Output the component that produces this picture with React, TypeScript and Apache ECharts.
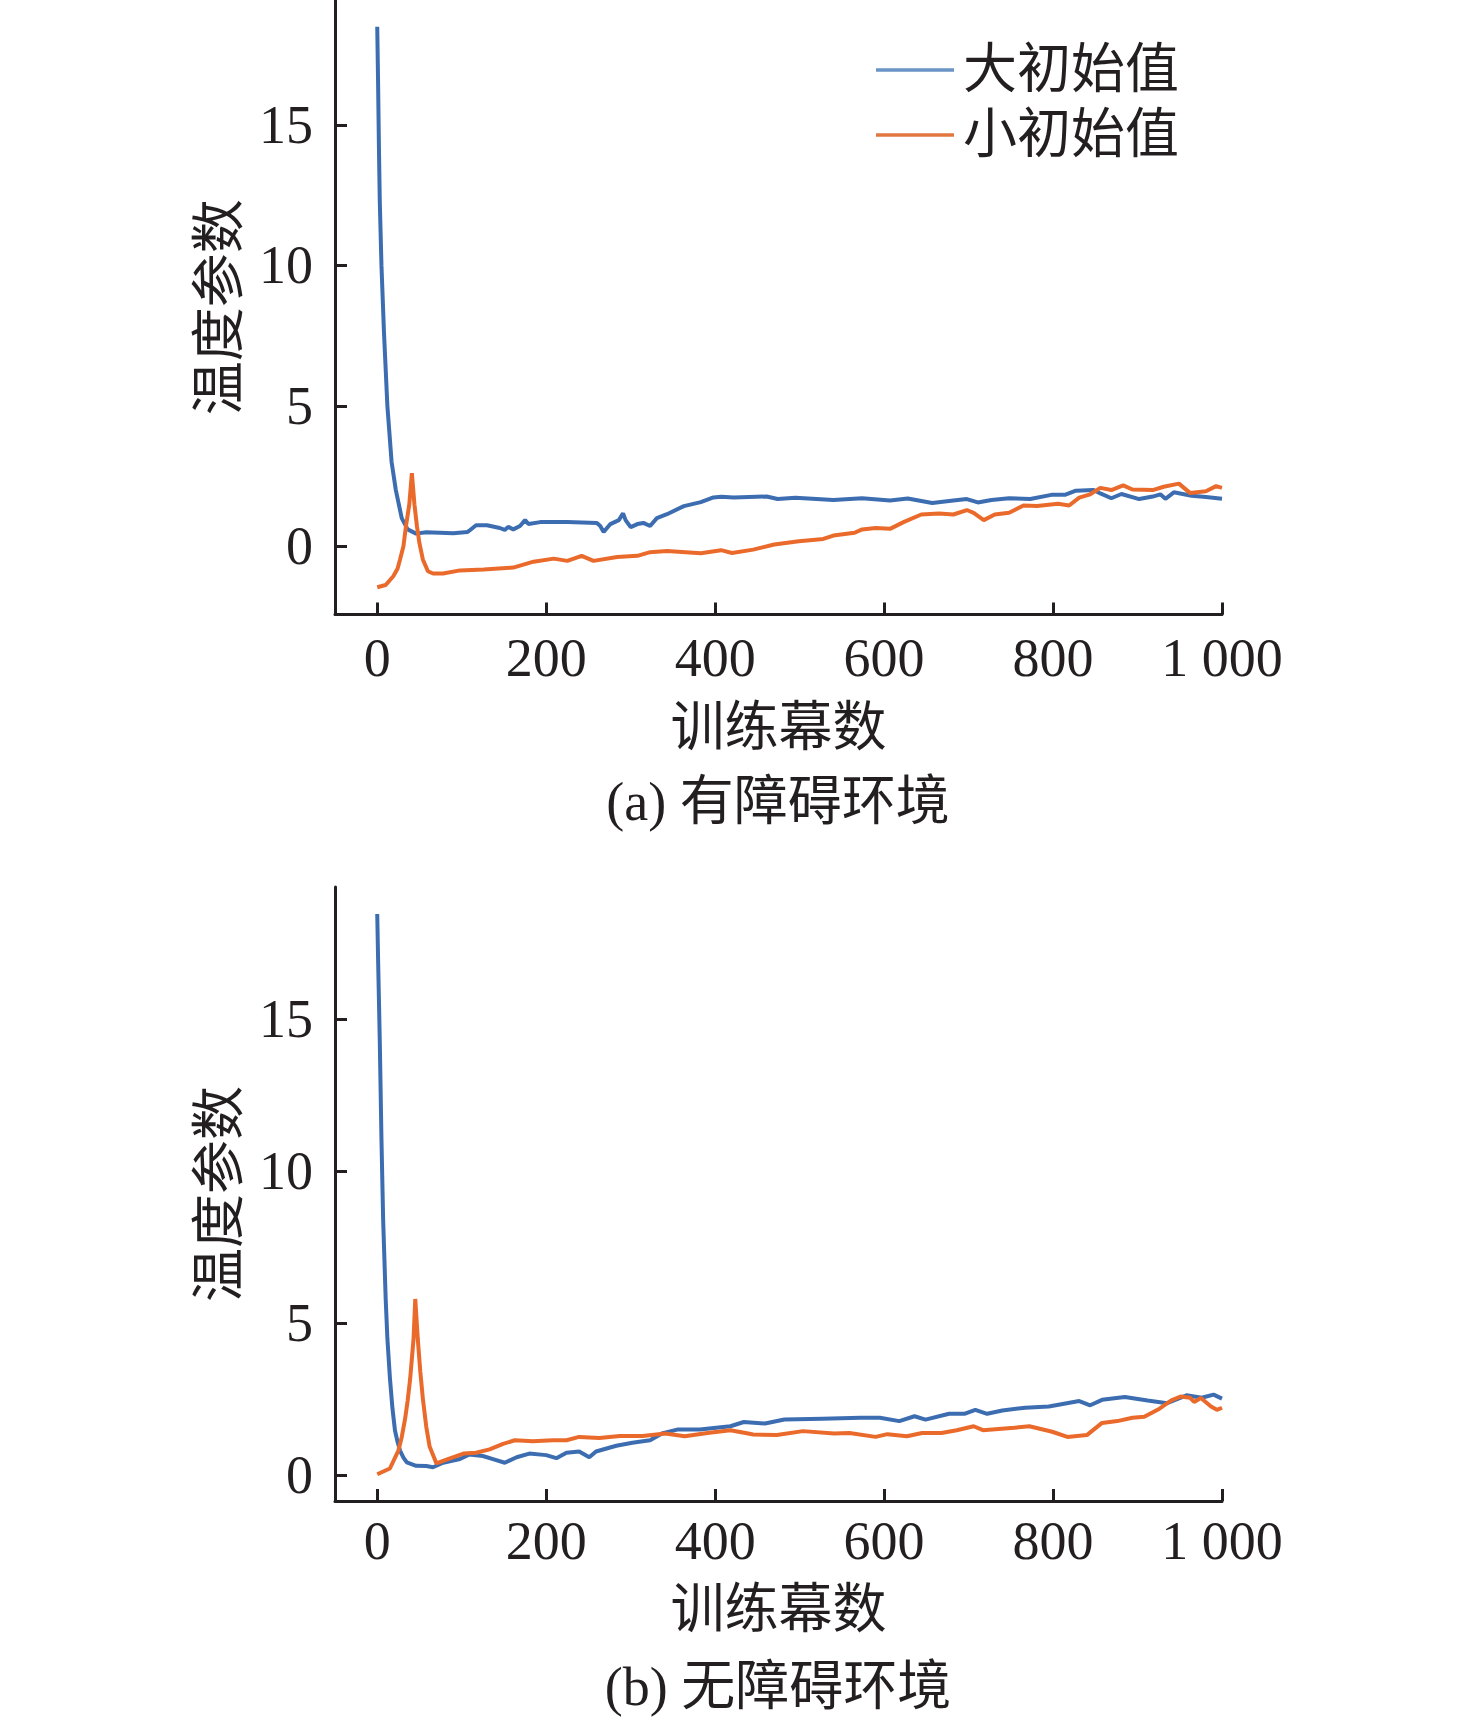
import React, { useEffect, useRef } from "react";
import * as echarts from "echarts";

// ---------- (a) 有障碍环境 ----------
const epBigA = [0, 1, 2, 3, 5, 8, 12, 17, 22, 29, 36, 46, 58, 90, 107, 110, 117, 130, 145, 151, 155, 161, 169, 175, 179, 193, 225, 260, 264, 268, 276, 286, 291, 294, 300, 308, 315, 323, 331, 343, 363, 383, 398, 407, 422, 461, 474, 495, 540, 574, 607, 628, 657, 682, 698, 711, 727, 748, 773, 798, 814, 827, 848, 856, 869, 881, 902, 918, 927, 933, 943, 964, 981, 1000];
const valBigA = [18.5, 16.5, 14.2, 12.3, 10.0, 7.6, 5.0, 3.0, 2.0, 1.0, 0.6, 0.45, 0.5, 0.46, 0.51, 0.58, 0.75, 0.75, 0.65, 0.58, 0.69, 0.6, 0.72, 0.93, 0.79, 0.86, 0.86, 0.83, 0.72, 0.51, 0.79, 0.93, 1.17, 0.93, 0.68, 0.79, 0.83, 0.72, 1.0, 1.14, 1.43, 1.57, 1.74, 1.76, 1.74, 1.77, 1.68, 1.73, 1.65, 1.71, 1.63, 1.7, 1.54, 1.63, 1.68, 1.56, 1.65, 1.71, 1.68, 1.83, 1.83, 1.98, 2.0, 1.88, 1.71, 1.86, 1.68, 1.77, 1.85, 1.69, 1.92, 1.8, 1.75, 1.69];

const epSmallA = [0, 10, 19, 24, 27, 31, 34, 38, 41, 44, 47, 50, 54, 60, 66, 78, 98, 126, 161, 185, 209, 225, 242, 256, 284, 308, 323, 343, 383, 407, 420, 445, 470, 499, 528, 540, 565, 574, 590, 607, 623, 644, 665, 682, 698, 706, 718, 731, 748, 765, 781, 806, 819, 831, 844, 856, 869, 883, 894, 918, 931, 949, 962, 981, 993, 1000];
const valSmallA = [-1.46, -1.38, -1.07, -0.8, -0.47, 0.0, 0.71, 1.5, 2.6, 1.5, 0.71, 0.1, -0.47, -0.89, -0.97, -0.97, -0.86, -0.83, -0.76, -0.55, -0.44, -0.52, -0.34, -0.52, -0.38, -0.34, -0.21, -0.17, -0.25, -0.14, -0.24, -0.12, 0.06, 0.18, 0.26, 0.38, 0.48, 0.6, 0.65, 0.62, 0.86, 1.13, 1.17, 1.13, 1.29, 1.19, 0.93, 1.13, 1.19, 1.45, 1.43, 1.51, 1.45, 1.73, 1.85, 2.08, 2.0, 2.17, 2.02, 2.0, 2.12, 2.23, 1.9, 1.96, 2.14, 2.08];

// ---------- (b) 无障碍环境 ----------
const epBigB = [0, 1, 3, 5, 7, 10, 12, 15, 18, 21, 24, 27, 31, 35, 46, 58, 66, 78, 98, 109, 125, 137, 151, 165, 180, 200, 212, 224, 239, 251, 259, 283, 302, 323, 337, 355, 382, 418, 434, 459, 482, 527, 572, 595, 618, 636, 649, 677, 695, 708, 722, 740, 767, 795, 813, 831, 844, 858, 885, 912, 935, 958, 976, 990, 1000];
const valBigB = [18.47, 17.0, 14.3, 11.05, 8.4, 5.8, 4.5, 3.2, 2.2, 1.47, 1.1, 0.81, 0.58, 0.42, 0.31, 0.3, 0.26, 0.41, 0.53, 0.68, 0.63, 0.53, 0.41, 0.59, 0.71, 0.66, 0.56, 0.74, 0.78, 0.59, 0.78, 0.97, 1.07, 1.15, 1.37, 1.5, 1.5, 1.61, 1.75, 1.7, 1.83, 1.86, 1.89, 1.89, 1.78, 1.94, 1.83, 2.02, 2.02, 2.15, 2.02, 2.13, 2.22, 2.26, 2.35, 2.44, 2.3, 2.48, 2.57, 2.46, 2.37, 2.63, 2.55, 2.65, 2.52];

const epSmallB = [0, 15, 25, 29, 33, 36, 39, 43, 45, 48, 51, 54, 58, 62, 70, 82, 102, 117, 133, 149, 163, 184, 208, 224, 239, 263, 287, 314, 341, 364, 391, 418, 436, 445, 473, 504, 541, 559, 590, 604, 627, 645, 668, 686, 706, 717, 754, 772, 799, 817, 840, 858, 876, 894, 908, 926, 940, 951, 962, 967, 975, 987, 994, 1000];
const valSmallB = [0.03, 0.22, 0.81, 1.25, 1.86, 2.45, 3.18, 4.49, 5.8, 4.49, 3.4, 2.52, 1.6, 0.94, 0.39, 0.51, 0.71, 0.74, 0.85, 1.03, 1.15, 1.12, 1.15, 1.15, 1.26, 1.22, 1.29, 1.29, 1.37, 1.28, 1.39, 1.48, 1.39, 1.34, 1.32, 1.45, 1.37, 1.39, 1.26, 1.35, 1.28, 1.39, 1.39, 1.48, 1.61, 1.48, 1.56, 1.61, 1.43, 1.26, 1.32, 1.72, 1.78, 1.89, 1.92, 2.19, 2.46, 2.59, 2.55, 2.41, 2.54, 2.26, 2.15, 2.22];

// ---------- ticks / texts ----------
const xTicks = [0, 200, 400, 600, 800, 1000];
const yTicks = [0, 5, 10, 15];
const seriesNames = ["大初始值", "小初始值"];
const xName = "训练幕数";
const yName = "温度参数";
const captions = ["(a) 有障碍环境", "(b) 无障碍环境"];

const BLUE = "#3d6db1";
const ORANGE = "#ea6a2b";
const INK = "#231f20";
const FONT = "'Liberation Serif', 'Noto Sans CJK SC', serif";

const pairs = (xs: number[], ys: number[]) => xs.map((x, i) => [x, ys[i]]);

export default function App() {
  const ref = useRef<HTMLDivElement>(null);
  useEffect(() => {
    if (!ref.current) return;
    const chart = echarts.init(ref.current, undefined, { renderer: "svg" });

    const grids = [
      { left: 335, width: 887, top: 0, height: 614.5 },
      { left: 335, width: 887, top: 887, height: 614 },
    ];
    const yRanges = [
      [-2.43, 19.45],
      [-0.85, 19.36],
    ];
    const nameGaps = [86, 82];
    const labelMargins = [16, 13];

    const xAxis = grids.map((_, i) => ({
      type: "value",
      gridIndex: i,
      min: -50,
      max: 1000,
      name: xName,
      nameLocation: "middle",
      nameGap: nameGaps[i],
      nameTextStyle: { fontFamily: FONT, fontSize: 54, color: INK },
      axisLine: { show: true, onZero: false, lineStyle: { color: INK, width: 3 } },
      axisTick: { show: true, inside: true, length: 12, customValues: xTicks, lineStyle: { color: INK, width: 3 } },
      axisLabel: {
        show: true,
        customValues: xTicks,
        margin: labelMargins[i],
        fontFamily: FONT,
        fontSize: 54,
        color: INK,
        formatter: (v: number) => (v >= 1000 ? "1 000" : String(v)),
      },
      splitLine: { show: false },
    }));

    const yAxis = grids.map((_, i) => ({
      type: "value",
      gridIndex: i,
      min: yRanges[i][0],
      max: yRanges[i][1],
      name: yName,
      nameLocation: "middle",
      nameGap: 88,
      nameRotate: 90,
      nameTextStyle: { fontFamily: FONT, fontSize: 54, color: INK },
      axisLine: { show: true, onZero: false, lineStyle: { color: INK, width: 3 } },
      axisTick: { show: true, inside: true, length: 12, customValues: yTicks, lineStyle: { color: INK, width: 3 } },
      axisLabel: {
        show: true,
        customValues: yTicks,
        margin: 22,
        fontFamily: FONT,
        fontSize: 54,
        color: INK,
      },
      splitLine: { show: false },
    }));

    const mk = (name: string, color: string, idx: number, data: number[][]) => ({
      type: "line",
      name,
      xAxisIndex: idx,
      yAxisIndex: idx,
      data,
      showSymbol: false,
      symbol: "none",
      color,
      lineStyle: { color, width: 4 },
      clip: true,
      z: name === seriesNames[1] ? 3 : 2,
    });

    chart.setOption({
      animation: false,
      backgroundColor: "#ffffff",
      grid: grids.map((g) => ({ ...g, containLabel: false })),
      xAxis,
      yAxis,
      legend: {
        data: seriesNames.map((n, i) => ({
          name: n,
          icon: "rect",
          itemStyle: { color: i === 0 ? "#6a93c6" : "#e2773f" },
        })),
        orient: "vertical",
        left: 876,
        top: 40,
        padding: 0,
        itemWidth: 78,
        itemHeight: 3.5,
        itemGap: 5,
        textStyle: { fontFamily: FONT, fontSize: 54, color: INK, lineHeight: 60, padding: [0, 0, 0, 4] },
      },
      series: [
        mk(seriesNames[0], BLUE, 0, pairs(epBigA, valBigA)),
        mk(seriesNames[1], ORANGE, 0, pairs(epSmallA, valSmallA)),
        mk(seriesNames[0], BLUE, 1, pairs(epBigB, valBigB)),
        mk(seriesNames[1], ORANGE, 1, pairs(epSmallB, valSmallB)),
      ],
      graphic: [
        {
          type: "text",
          x: 778,
          y: 802,
          style: { text: captions[0], fontFamily: FONT, fontSize: 54, fill: INK, align: "center", verticalAlign: "middle" },
        },
        {
          type: "text",
          x: 778,
          y: 1687,
          style: { text: captions[1], fontFamily: FONT, fontSize: 54, fill: INK, align: "center", verticalAlign: "middle" },
        },
      ],
    });
    return () => chart.dispose();
  }, []);

  return (
    <div
      ref={ref}
      style={{ position: "absolute", left: 0, top: 0, width: 1476, height: 1721, background: "#fff" }}
    />
  );
}
